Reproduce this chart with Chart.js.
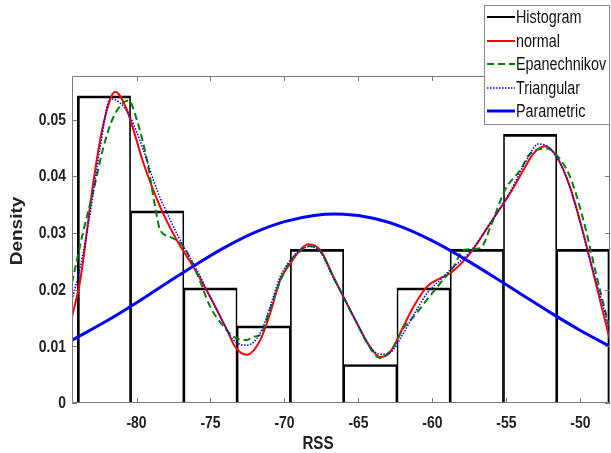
<!DOCTYPE html>
<html>
<head>
<meta charset="utf-8">
<script src="https://cdn.jsdelivr.net/npm/chart.js@4.4.0/dist/chart.umd.min.js"></script>
<style>
  html, body { margin: 0; padding: 0; background: #fff; }
  #wrap { width: 611px; height: 453px; }
</style>
</head>
<body>
<div id="wrap"><canvas id="kdeChart"></canvas></div>
<script>
// histogram (density per bin)
const binCenters = [-82.2, -78.6, -75.0, -71.4, -67.8, -64.2, -60.6, -57.0, -53.4, -49.8];
const binDensity = [0.0542, 0.0339, 0.0203, 0.0136, 0.0271, 0.0068, 0.0203, 0.0271, 0.0474, 0.0271];

// kernel density estimates
const normalX = [-84.36, -83.8, -82.9, -82.23, -81.44, -80.65, -79.53, -78.4, -77.27, -76.15, -75.02, -73.89, -73.33, -72.54, -71.64, -70.97, -70.29, -69.61, -68.94, -68.38, -67.59, -66.69, -66.01, -65.11, -64.21, -63.53, -62.86, -61.96, -61.28, -60.38, -59.48, -58.8, -57.45, -56.1, -54.75, -53.85, -53.18, -52.39, -51.59, -50.7, -49.8, -48.9, -48.0];
const normalY = [0.0152, 0.0217, 0.0393, 0.0493, 0.0549, 0.0517, 0.0423, 0.0346, 0.0287, 0.0240, 0.0187, 0.0129, 0.0099, 0.0085, 0.0111, 0.0158, 0.0217, 0.0246, 0.0270, 0.0280, 0.0270, 0.0223, 0.0187, 0.0141, 0.0099, 0.0081, 0.0090, 0.0135, 0.0170, 0.0205, 0.0220, 0.0229, 0.0264, 0.0317, 0.0370, 0.0411, 0.0440, 0.0453, 0.0434, 0.0381, 0.0299, 0.0205, 0.0111];

const epanX = [-84.36, -83.58, -82.9, -82.23, -81.55, -80.54, -79.97, -79.3, -78.74, -78.4, -77.72, -76.82, -75.92, -75.02, -74.12, -73.45, -72.54, -72.1, -71.64, -70.97, -70.29, -69.61, -68.94, -68.38, -67.59, -66.69, -66.01, -65.11, -64.21, -63.53, -62.64, -61.96, -61.28, -60.38, -59.48, -58.58, -57.9, -56.78, -55.99, -55.09, -54.07, -53.4, -52.27, -51.59, -50.7, -49.8, -48.9, -48.0];
const epanY = [0.0212, 0.0305, 0.0376, 0.0452, 0.0505, 0.0534, 0.0499, 0.0429, 0.0346, 0.0305, 0.0293, 0.0276, 0.0229, 0.0170, 0.0135, 0.0117, 0.0111, 0.0117, 0.0120, 0.0165, 0.0215, 0.0250, 0.0268, 0.0277, 0.0268, 0.0222, 0.0187, 0.0141, 0.0097, 0.0079, 0.0099, 0.0132, 0.0152, 0.0182, 0.0211, 0.0240, 0.0270, 0.0273, 0.0317, 0.0376, 0.0411, 0.0440, 0.0449, 0.0437, 0.0399, 0.0323, 0.0223, 0.0129];

const triX = [-84.36, -83.8, -83.13, -82.45, -81.78, -81.1, -80.43, -79.53, -78.62, -77.72, -76.82, -75.92, -75.02, -74.12, -73.45, -72.54, -71.64, -70.97, -70.29, -69.61, -68.94, -68.26, -67.59, -66.69, -66.01, -65.11, -64.21, -63.53, -62.86, -61.96, -61.28, -60.38, -59.48, -58.8, -57.45, -56.1, -54.75, -53.63, -52.84, -52.05, -51.15, -50.24, -49.35, -48.45, -48.0];
const triY = [0.0182, 0.0240, 0.0335, 0.0452, 0.0537, 0.0529, 0.0505, 0.0446, 0.0376, 0.0323, 0.0276, 0.0235, 0.0187, 0.0141, 0.0111, 0.0102, 0.0123, 0.0170, 0.0223, 0.0252, 0.0270, 0.0276, 0.0267, 0.0220, 0.0187, 0.0141, 0.0099, 0.0086, 0.0089, 0.0123, 0.0155, 0.0193, 0.0217, 0.0235, 0.0267, 0.0317, 0.0373, 0.0429, 0.0457, 0.0449, 0.0411, 0.0340, 0.0252, 0.0170, 0.0123];

// parametric fit
const paramX = [-84.36, -82, -80, -78, -76, -74, -72, -70, -68, -66, -64, -62, -60, -58, -56, -54, -52, -50, -48];
const paramY = [0.0111, 0.0145, 0.0177, 0.0211, 0.0244, 0.0275, 0.0301, 0.0320, 0.0331, 0.0333, 0.0326, 0.0310, 0.0286, 0.0257, 0.0225, 0.0192, 0.0159, 0.0128, 0.0100];

const xTickValues = [-80, -75, -70, -65, -60, -55, -50];
const xTickLabels = ['-80', '-75', '-70', '-65', '-60', '-55', '-50'];
const yTickValues = [0, 0.01, 0.02, 0.03, 0.04, 0.05];
const yTickLabels = ['0', '0.01', '0.02', '0.03', '0.04', '0.05'];

const FONT = '"Liberation Sans", Arial, sans-serif';
const SQUEEZE = 0.82;   // the source figure is horizontally compressed
const AXIS_GREY = '#7a7a7a';

const toPoints = (xs, ys) => xs.map((x, i) => ({ x: x, y: ys[i] }));

function squeezedText(ctx, text, x, y, align) {
  ctx.save();
  ctx.translate(x, y);
  ctx.scale(SQUEEZE, 1);
  ctx.textAlign = align;
  ctx.fillText(text, 0, 0);
  ctx.restore();
}

// box, inward ticks, tick labels and axis titles, like the original figure
const framePlugin = {
  id: 'frame',
  afterDatasetsDraw(chart) {
    const { ctx, chartArea: a, scales } = chart;
    ctx.save();
    ctx.strokeStyle = AXIS_GREY;
    ctx.lineWidth = 1;
    ctx.beginPath();
    ctx.rect(a.left + 0.5, a.top + 0.5, a.right - a.left - 1, a.bottom - a.top - 1);
    xTickValues.forEach(v => {
      const px = Math.round(scales.x.getPixelForValue(v)) + 0.5;
      ctx.moveTo(px, a.bottom); ctx.lineTo(px, a.bottom - 5);
      ctx.moveTo(px, a.top); ctx.lineTo(px, a.top + 5);
    });
    yTickValues.forEach(v => {
      const py = Math.round(scales.y.getPixelForValue(v)) + 0.5;
      ctx.moveTo(a.left, py); ctx.lineTo(a.left + 5, py);
      ctx.moveTo(a.right, py); ctx.lineTo(a.right - 5, py);
    });
    ctx.stroke();

    ctx.fillStyle = '#222';
    ctx.textBaseline = 'middle';
    ctx.font = 'bold 17px ' + FONT;
    xTickValues.forEach((v, i) => {
      squeezedText(ctx, xTickLabels[i], scales.x.getPixelForValue(v), a.bottom + 20, 'center');
    });
    yTickValues.forEach((v, i) => {
      squeezedText(ctx, yTickLabels[i], a.left - 6, scales.y.getPixelForValue(v) + 0.5, 'right');
    });

    ctx.font = 'bold 18.5px ' + FONT;
    squeezedText(ctx, 'RSS', 318, 444, 'center');

    ctx.translate(18, 231);
    ctx.rotate(-Math.PI / 2);
    ctx.scale(1, SQUEEZE);
    ctx.font = 'bold 19px ' + FONT;
    ctx.textAlign = 'center';
    ctx.fillText('Density', 0, 0);
    ctx.restore();
  },
  afterDraw(chart) {
    const { ctx } = chart;
    const box = { x: 484, y: 5, w: 125, h: 119 };
    const rowY = [17, 41, 64, 88, 111];
    ctx.save();
    ctx.fillStyle = '#fff';
    ctx.fillRect(box.x, box.y, box.w, box.h);
    ctx.strokeStyle = '#8a8a8a';
    ctx.lineWidth = 1;
    ctx.strokeRect(box.x + 0.5, box.y + 0.5, box.w, box.h);
    chart.data.datasets.forEach((ds, i) => {
      const y = rowY[i];
      ctx.beginPath();
      ctx.strokeStyle = ds.borderColor;
      ctx.lineWidth = ds.legendWidth;
      ctx.setLineDash(ds.borderDash || []);
      ctx.moveTo(487, y);
      ctx.lineTo(515, y);
      ctx.stroke();
      ctx.setLineDash([]);
      ctx.fillStyle = '#111';
      ctx.font = '17.5px ' + FONT;
      ctx.textBaseline = 'middle';
      squeezedText(ctx, ds.label, 516, y + 1, 'left');
    });
    ctx.restore();
  }
};

const lineStyle = { type: 'line', pointRadius: 0, fill: false, cubicInterpolationMode: 'monotone' };
const lastBin = binCenters.length - 1;

new Chart(document.getElementById('kdeChart'), {
  type: 'line',
  data: {
    datasets: [
      {
        type: 'bar',
        label: 'Histogram',
        data: toPoints(binCenters, binDensity),
        backgroundColor: 'rgba(0,0,0,0)',
        borderColor: '#000',
        // inner edges are shared by two bars, so 1px each side gives 2px
        borderWidth: c => ({
          top: 2,
          left: c.dataIndex === 0 ? 2 : 1,
          right: c.dataIndex === lastBin ? 2 : 1,
          bottom: 0
        }),
        barPercentage: 1,
        categoryPercentage: 1,
        legendWidth: 2,
        order: 4
      },
      Object.assign({}, lineStyle, {
        label: 'normal', data: toPoints(normalX, normalY),
        borderColor: '#ff0000', borderWidth: 2, legendWidth: 2, order: 3
      }),
      Object.assign({}, lineStyle, {
        label: 'Epanechnikov', data: toPoints(epanX, epanY),
        borderColor: '#008000', borderWidth: 2, borderDash: [7, 4], legendWidth: 2, order: 2
      }),
      Object.assign({}, lineStyle, {
        label: 'Triangular', data: toPoints(triX, triY),
        borderColor: '#0000ff', borderWidth: 1.5, borderDash: [1.5, 1.5], legendWidth: 1.5, order: 1
      }),
      Object.assign({}, lineStyle, {
        label: 'Parametric', data: toPoints(paramX, paramY),
        borderColor: '#0000ff', borderWidth: 3, legendWidth: 3, order: 0,
        cubicInterpolationMode: 'default', tension: 0.4
      })
    ]
  },
  options: {
    responsive: true,
    maintainAspectRatio: false,
    animation: false,
    layout: { padding: { top: 76, right: 1, left: 0, bottom: 0 } },
    plugins: {
      legend: { display: false },
      tooltip: { enabled: false }
    },
    scales: {
      x: {
        type: 'linear',
        min: -84.36,
        max: -48,
        offset: false,
        grid: { display: false, drawTicks: false },
        border: { display: false },
        afterBuildTicks: scale => { scale.ticks = xTickValues.map(v => ({ value: v })); },
        afterFit: scale => { scale.height = 50; },
        ticks: { display: false }
      },
      y: {
        min: 0,
        max: 0.0577,
        grid: { display: false, drawTicks: false },
        border: { display: false },
        afterBuildTicks: scale => { scale.ticks = yTickValues.map(v => ({ value: v })); },
        afterFit: scale => { scale.width = 72; },
        ticks: { display: false }
      }
    }
  },
  plugins: [framePlugin]
});
</script>
</body>
</html>
